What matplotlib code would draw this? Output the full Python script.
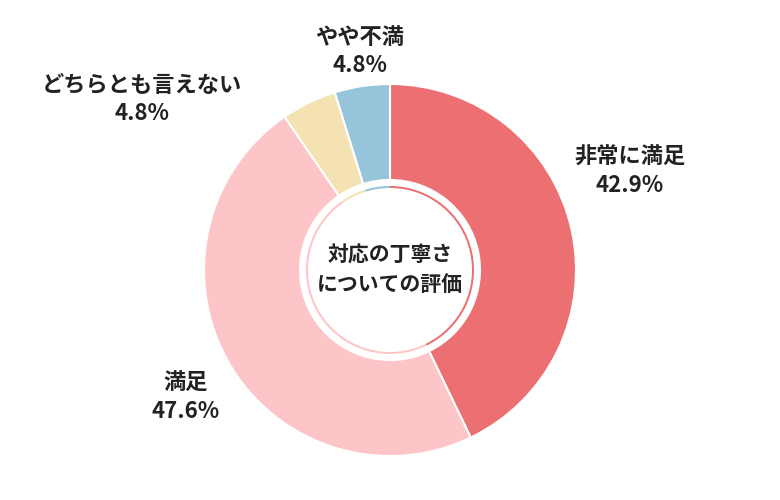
import matplotlib
matplotlib.use("Agg")
import matplotlib.pyplot as plt

plt.rcParams['font.family'] = ['Noto Sans CJK JP', 'DejaVu Sans']

labels = ["非常に満足", "満足", "どちらとも言えない", "やや不満"]
values = [42.9, 47.6, 4.8, 4.8]
pct = ["42.9%", "47.6%", "4.8%", "4.8%"]
colors = ["#EC7072", "#FDC5C7", "#F5E2B3", "#96C4DB"]
title = "対応の丁寧さ\nについての評価"

fig = plt.figure(figsize=(7.8, 5), dpi=100)
ax = fig.add_axes([0, 0, 1, 1])

c = (390, 230)
ax.pie(values, colors=colors, startangle=90, counterclock=False, center=c, radius=186,
       wedgeprops=dict(width=186 - 90, edgecolor='white', linewidth=1.5), frame=True)
ax.pie(values, colors=colors, startangle=90, counterclock=False, center=c, radius=84,
       wedgeprops=dict(width=2, edgecolor='none'), frame=True)
ax.set_xlim(0, 780); ax.set_ylim(0, 500); ax.set_aspect('equal'); ax.axis('off')

pos = [(630, 343, 314), (186, 117, 89), (142, 415, 387), (360, 462, 434)]
for (x, y1, y2), l, p in zip(pos, labels, pct):
    ax.text(x, y1, l, ha='center', va='center', fontsize=16, fontweight='bold', color='#222222')
    ax.text(x, y2, p, ha='center', va='center', fontsize=16, fontweight='bold', color='#222222')
ax.text(c[0], c[1], title, ha='center', va='center', fontsize=15, fontweight='bold',
        color='#222222', linespacing=1.5)

fig.savefig("out.png", dpi=100)
